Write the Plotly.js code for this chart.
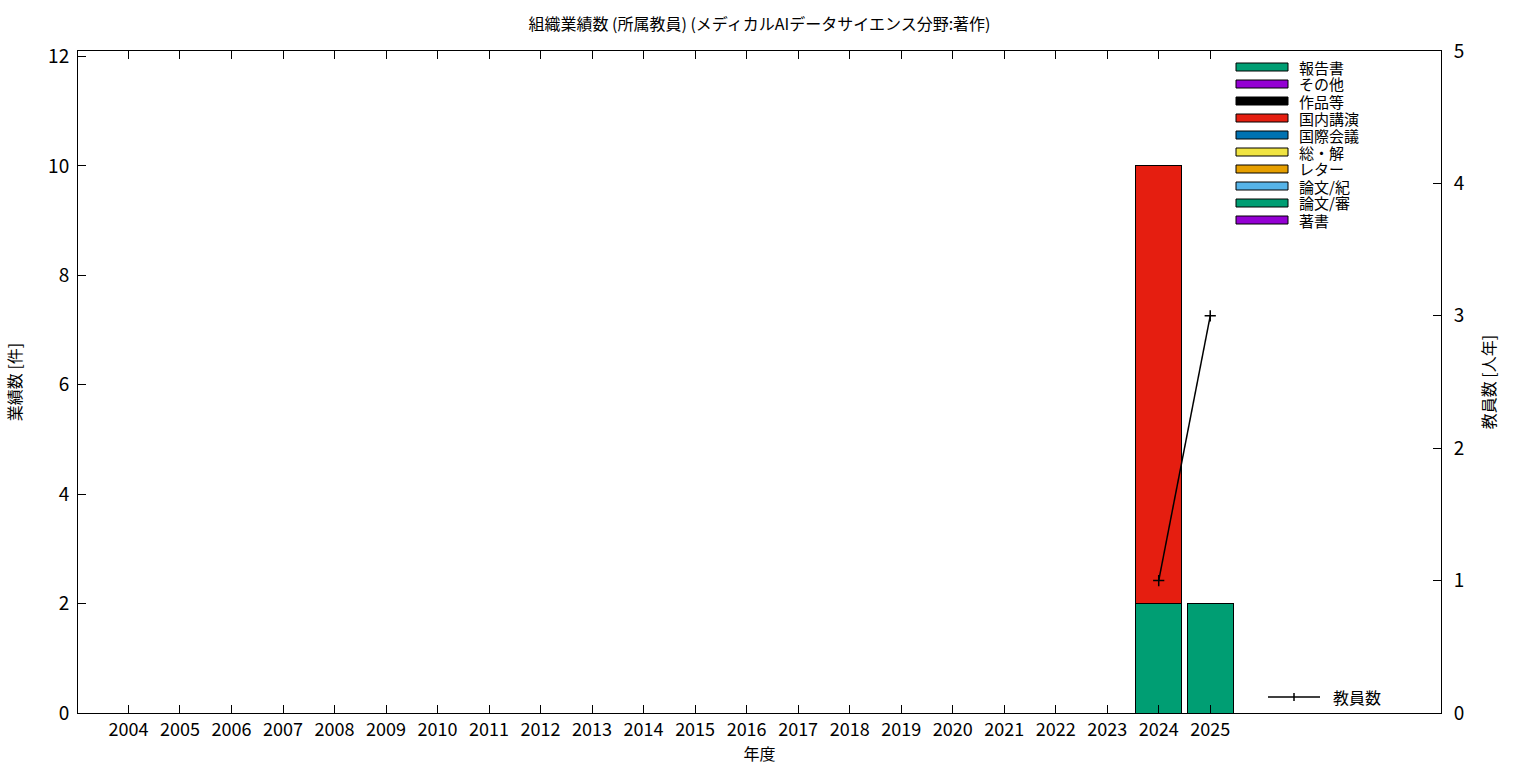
<!DOCTYPE html>
<html>
<head>
<meta charset="utf-8">
<script src="https://cdn.plot.ly/plotly-3.0.1.min.js"></script>
<style>html,body{margin:0;padding:0;background:#fff;}#chart{width:1536px;height:768px;}</style>
</head>
<body>
<div id="chart"></div>
<script>
const years = ['2004','2005','2006','2007','2008','2009','2010','2011','2012','2013','2014','2015','2016','2017','2018','2019','2020','2021','2022','2023','2024','2025'];
// stacked from bottom to top
const seriesNames = ['著書','論文/審','論文/紀','レター','総・解','国際会議','国内講演','作品等','その他','報告書'];
const seriesColors = ['#9400d3','#009e73','#56b4e9','#e69f00','#f0e442','#0072b2','#e51e10','#000000','#9400d3','#009e73'];
const chosho   = [0,0,0,0,0,0,0,0,0,0,0,0,0,0,0,0,0,0,0,0,0,0];
const ronbunShin = [0,0,0,0,0,0,0,0,0,0,0,0,0,0,0,0,0,0,0,0,2,2];
const ronbunKi = [0,0,0,0,0,0,0,0,0,0,0,0,0,0,0,0,0,0,0,0,0,0];
const letter   = [0,0,0,0,0,0,0,0,0,0,0,0,0,0,0,0,0,0,0,0,0,0];
const soukai   = [0,0,0,0,0,0,0,0,0,0,0,0,0,0,0,0,0,0,0,0,0,0];
const kokusai  = [0,0,0,0,0,0,0,0,0,0,0,0,0,0,0,0,0,0,0,0,0,0];
const kokunai  = [0,0,0,0,0,0,0,0,0,0,0,0,0,0,0,0,0,0,0,0,8,0];
const sakuhin  = [0,0,0,0,0,0,0,0,0,0,0,0,0,0,0,0,0,0,0,0,0,0];
const sonota   = [0,0,0,0,0,0,0,0,0,0,0,0,0,0,0,0,0,0,0,0,0,0];
const houkoku  = [0,0,0,0,0,0,0,0,0,0,0,0,0,0,0,0,0,0,0,0,0,0];
const staff    = [null,null,null,null,null,null,null,null,null,null,null,null,null,null,null,null,null,null,null,null,1,3];
const staffName = '教員数';
const titleText = '組織業績数 (所属教員) (メディカルAIデータサイエンス分野:著作)';

const seriesValues = [chosho, ronbunShin, ronbunKi, letter, soukai, kokusai, kokunai, sakuhin, sonota, houkoku];
const xs = years.map((y,i)=>i);
const FONT = '"Noto Sans CJK JP", "Noto Sans", sans-serif';

const traces = seriesNames.map((name, k) => ({
  type: 'bar', name: name, x: xs,
  y: seriesValues[k].map(v => v === 0 ? null : v),
  width: 0.9,
  marker: {color: seriesColors[k], line: {color: '#000', width: 1}},
  showlegend: false
}));
traces.push({
  type: 'scatter', mode: 'lines+markers', name: staffName, x: xs, y: staff, yaxis: 'y2',
  line: {color: '#000', width: 1.5},
  marker: {symbol: 'cross-thin', size: 8, color: '#000', line: {color: '#000', width: 1.5}},
  showlegend: false, connectgaps: false
});

// custom legend (gnuplot style)
const L = 78, R = 1441, T = 51, B = 713;
const px = x => (x - L) / (R - L);
const py = y => (B - y) / (B - T);
const shapes = [];
const annotations = [];
const legendOrder = seriesNames.map((n,i)=>i).reverse();
legendOrder.forEach((k, row) => {
  const cy = 67 + row * 17;
  shapes.push({type:'rect', xref:'paper', yref:'paper', x0: px(1236), x1: px(1288), y0: py(cy+4), y1: py(cy-4),
    fillcolor: seriesColors[k], line:{color:'#000', width:1}});
  annotations.push({xref:'paper', yref:'paper', x: px(1297), y: py(cy), xanchor:'left', yanchor:'middle',
    text: seriesNames[k], showarrow:false, font:{family:FONT, size:15, color:'#000'}});
});
shapes.push({type:'line', xref:'paper', yref:'paper', x0: px(1268), x1: px(1320), y0: py(697), y1: py(697), line:{color:'#000', width:1.5}});
shapes.push({type:'line', xref:'paper', yref:'paper', x0: px(1294), x1: px(1294), y0: py(693), y1: py(701), line:{color:'#000', width:1.5}});
annotations.push({xref:'paper', yref:'paper', x: px(1331), y: py(697), xanchor:'left', yanchor:'middle',
  text: staffName, showarrow:false, font:{family:FONT, size:16, color:'#000'}});

const layout = {
  width: 1536, height: 768,
  margin: {l: 78, r: 95, t: 51, b: 55},
  paper_bgcolor: '#fff', plot_bgcolor: '#fff',
  barmode: 'stack',
  font: {family: FONT, color: '#000', size: 16},
  title: {text: titleText, x: 0.5, xref:'paper', y: 0.968, yanchor:'middle', font: {family: FONT, size: 16, color:'#000'}},
  xaxis: {
    range: [-0.98, 25.48], tickvals: xs, ticktext: years,
    ticks: 'inside', ticklen: 8, tickwidth: 1, tickcolor: '#000',
    showline: true, linecolor: '#000', linewidth: 1, mirror: 'ticks',
    showgrid: false, zeroline: false,
    tickfont: {family: FONT, size: 18},
    title: {text: '年度', font: {family: FONT, size: 16}, standoff: 6}
  },
  yaxis: {
    range: [0, 12.1], tickvals: [0,2,4,6,8,10,12],
    ticks: 'inside', ticklen: 8, tickwidth: 1, tickcolor: '#000',
    showline: true, linecolor: '#000', linewidth: 1, mirror: true,
    showgrid: false, zeroline: false,
    tickfont: {family: FONT, size: 19},
    ticklabelstandoff: 4,
    title: {text: '業績数 [件]', font: {family: FONT, size: 16}, standoff: 22}
  },
  yaxis2: {
    range: [0, 5], tickvals: [0,1,2,3,4,5], overlaying: 'y', side: 'right',
    ticks: 'inside', ticklen: 8, tickwidth: 1, tickcolor: '#000',
    showline: true, linecolor: '#000', linewidth: 1,
    showgrid: false, zeroline: false,
    tickfont: {family: FONT, size: 19},
    ticklabelstandoff: 8,
    title: {text: '教員数 [人年]', font: {family: FONT, size: 16}, standoff: 20}
  },
  shapes: shapes,
  annotations: annotations
};

Plotly.newPlot('chart', traces, layout, {staticPlot: true});
</script>
</body>
</html>
